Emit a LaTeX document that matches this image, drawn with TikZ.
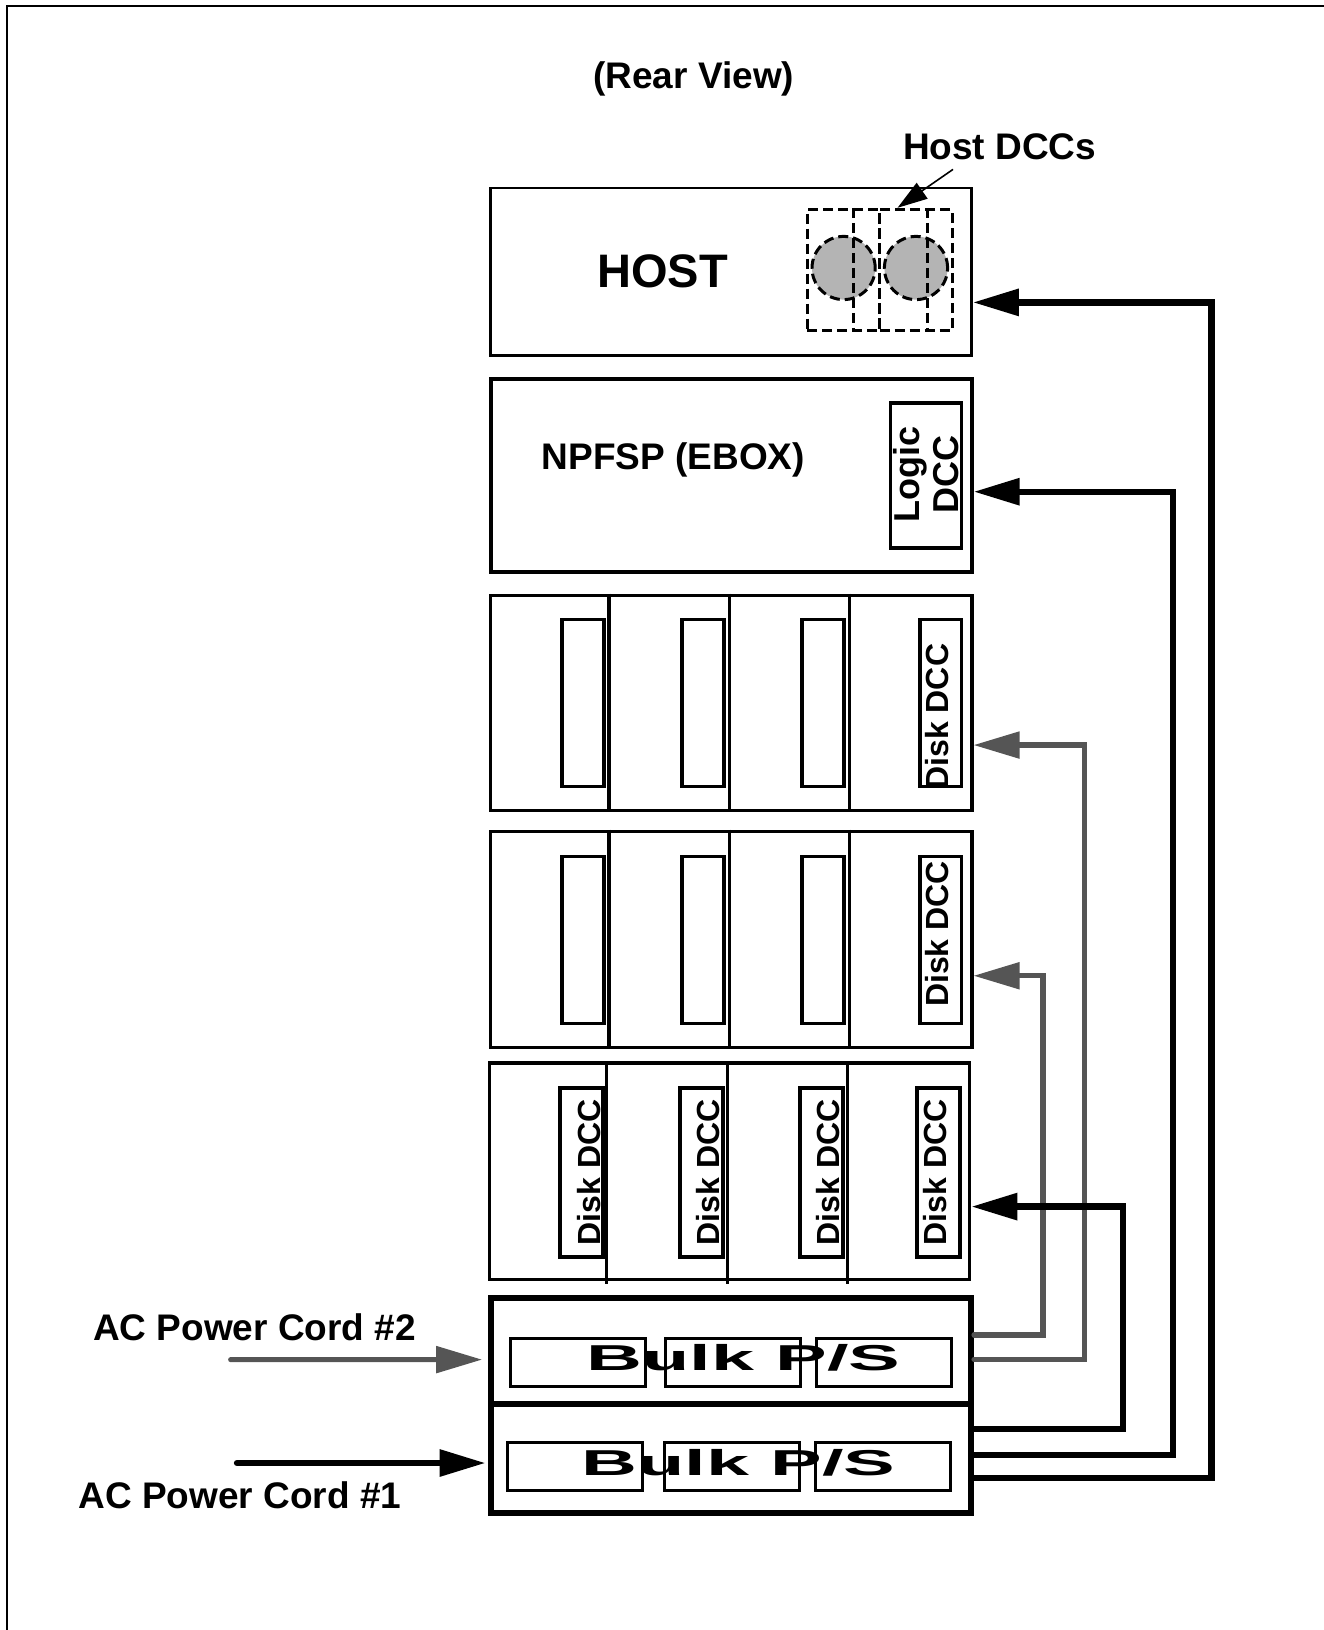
\documentclass[tikz,border=0pt]{standalone}
\usepackage{fontspec}
\setmainfont{Liberation Sans}
\usetikzlibrary{arrows.meta}
\definecolor{cordgray}{HTML}{555555}
\definecolor{dccfill}{HTML}{B4B4B4}
\begin{document}
\begin{tikzpicture}[x=1pt,y=-1pt,
  lbl/.style={font=\bfseries\fontsize{37}{40}\selectfont, inner sep=0pt},
  disklbl/.style={font=\bfseries\fontsize{32}{34}\selectfont, inner sep=0pt, rotate=90},
  bulklbl/.style={font=\bfseries\fontsize{36}{38}\selectfont, inner sep=0pt, anchor=base},
  bx/.style={draw, line width=3.6pt, inner sep=0pt},
  thinbx/.style={draw, line width=2.5pt, inner sep=0pt},
  bulkbx/.style={draw, line width=5.8pt, inner sep=0pt, minimum width=480pt},
  psbx/.style={draw, line width=3pt, inner sep=0pt, minimum width=135pt, minimum height=48.4pt},
  slot/.style={draw, line width=3.6pt, inner sep=0pt, minimum width=41.6pt, minimum height=167.3pt},
  dashbx/.style={draw, line width=3pt, dash pattern=on 10pt off 5pt, inner sep=0pt, minimum width=72.5pt, minimum height=120.7pt},
  dashln/.style={line width=3pt, dash pattern=on 10pt off 5pt},
  dcc/.style={circle, draw, line width=3pt, dash pattern=on 10pt off 5pt, fill=dccfill, inner sep=0pt, minimum size=63.2pt},
  blk/.style={line width=6.3pt, line cap=round, -{Triangle[length=46pt,width=26pt]}},
  gry/.style={line width=5.2pt, line cap=round, draw=cordgray, -{Triangle[length=46pt,width=26pt]}, color=cordgray},
]
\useasboundingbox (0,0) rectangle (1324,1630);
\draw[line width=2.2pt] (6.7,1630) -- (6.7,6) -- (1324,6);

% titles
\node[lbl, anchor=base] (title) at (693.7,88) {(Rear View)};
\node[lbl, anchor=base] (hdcclbl) at (999.7,159) {Host DCCs};

% HOST
\node[thinbx, minimum width=481.2pt, minimum height=167.3pt] (host) at (731.1,271.75) {};
\node[lbl, font=\bfseries\fontsize{47}{50}\selectfont, anchor=base] (hosttxt) at (662.5,287.9) {HOST};
\node[dcc] (c1) at (843.6,268) {};
\node[dcc] (c2) at (916,268) {};
\node[dashbx] (dccA) at (843.25,269.65) {};
\node[dashbx] (dccB) at (915.75,269.65) {};
\draw[dashln] ([xshift=47.7pt]dccA.north west) -- ([xshift=47.7pt]dccA.south west);
\draw[dashln] ([xshift=49.5pt]dccB.north west) -- ([xshift=49.5pt]dccB.south west);
\coordinate (hdcctail) at (953,169.4);
\draw[line width=1.6pt, -{Triangle[length=30pt,width=19pt]}] (hdcctail) -- ([xshift=19.5pt]dccB.north west);

% NPFSP
\node[bx, line width=4pt, minimum width=481.2pt, minimum height=192.3pt] (npfsp) at (731.1,475.45) {};
\node[lbl, anchor=base] (npfsptxt) at (673.4,469.7) {NPFSP (EBOX)};
\node[bx, minimum width=70.7pt, minimum height=144.5pt] (logic) at (925.95,475.45) {};
\node[lbl, rotate=90, align=center, font=\bfseries\fontsize{36}{39.5}\selectfont] (logictxt) at (926,474) {Logic\\DCC};

% disk rows 1 and 2
\node[bx, minimum width=481.2pt, minimum height=215.1pt] (row1) at (731.1,703.05) {};
\node[bx, minimum width=481.2pt, minimum height=216.1pt] (row2) at (731.1,939.45) {};
\foreach \r in {row1,row2}{
  \foreach \dx in {120.3,240.6,360.9}{
    \draw[line width=3.4pt] ([xshift=\dx pt]\r.north west) -- ([xshift=\dx pt]\r.south west);
  }
}
\node[slot] (r1a) at (583,703) {};
\node[slot] (r1b) at (703,703) {};
\node[slot] (r1c) at (823,703) {};
\node[slot] (r1d) at (940.5,703) {};
\node[disklbl] (r1dt) at (937.5,716.7) {Disk DCC};
\node[slot] (r2a) at (583,940) {};
\node[slot] (r2b) at (703,940) {};
\node[slot] (r2c) at (823,940) {};
\node[slot] (r2d) at (940.5,940) {};
\node[disklbl] (r2dt) at (937.5,934) {Disk DCC};

% disk row 3
\node[bx, minimum width=480.1pt, minimum height=216.2pt] (row3) at (729.55,1171.2) {};
\foreach \dx in {118.8,239.5,359.8}{
  \draw[line width=3.4pt] ([xshift=\dx pt]row3.north west) -- ([xshift=\dx pt, yshift=-2.5pt]row3.south west);
}
\node[slot, minimum width=43pt, minimum height=169pt] (r3a) at (581.7,1172.2) {};
\node[slot, minimum width=43pt, minimum height=169pt] (r3b) at (701.2,1172.2) {};
\node[slot, minimum width=43pt, minimum height=169pt] (r3c) at (821.3,1172.2) {};
\node[slot, minimum width=43pt, minimum height=169pt] (r3d) at (938.6,1172.2) {};
\node[disklbl] (r3at) at (589.2,1172.5) {Disk DCC};
\node[disklbl] (r3bt) at (708.3,1172.5) {Disk DCC};
\node[disklbl] (r3ct) at (828.3,1172.5) {Disk DCC};
\node[disklbl] (r3dt) at (935,1172.5) {Disk DCC};

% bulk power supplies
\node[bulkbx, minimum height=105.7pt] (bulk2) at (731.1,1351.15) {};
\node[bulkbx, minimum height=109.3pt] (bulk1) at (731.1,1458.65) {};
\node[psbx] (b2a) at (577.5,1362.5) {};
\node[psbx] (b2b) at (733.35,1362.5) {};
\node[psbx] (b2c) at (884.2,1362.5) {};
\node[psbx] (b1a) at (575.2,1466.5) {};
\node[psbx] (b1b) at (731.5,1466.5) {};
\node[psbx] (b1c) at (882.5,1466.5) {};
\node[bulklbl] (b2t) at (743.3,1370.7) {\scalebox{2.15}[1]{Bulk P/S}};
\node[bulklbl] (b1t) at (738.3,1475) {\scalebox{2.15}[1]{Bulk P/S}};

% DC feeds
\draw[gry] ([yshift=16.15pt]bulk2.east) -- ++(68.9,0) |- ([yshift=-36.3pt]row2.east);
\draw[gry] ([yshift=-8.15pt]bulk2.east) -- ++(110.6,0) |- ([yshift=-42pt]row1.east);
\draw[blk] ([yshift=29.35pt]bulk1.east) -- ++(149.2,0) |- ([yshift=-35.4pt]row3.east);
\draw[blk] ([yshift=3.65pt]bulk1.east) -- ++(199,0) |- ([yshift=-16.25pt]npfsp.east);
\draw[blk] ([yshift=-19.65pt]bulk1.east) -- ++(237.5,0) |- ([yshift=-30.65pt]host.east);

% AC cords
\node[lbl, anchor=base] (ac2) at (254.6,1340.6) {AC Power Cord \#2};
\node[lbl, anchor=base] (ac1) at (240,1508) {AC Power Cord \#1};
\coordinate (ac2s) at (230.7,1359.6);
\coordinate (ac1s) at (237,1463);
\draw[gry] (ac2s) -- ([xshift=-6pt, yshift=-8.45pt]bulk2.west);
\draw[blk] (ac1s) -- ([xshift=-2.7pt, yshift=-4.35pt]bulk1.west);
\end{tikzpicture}
\end{document}
